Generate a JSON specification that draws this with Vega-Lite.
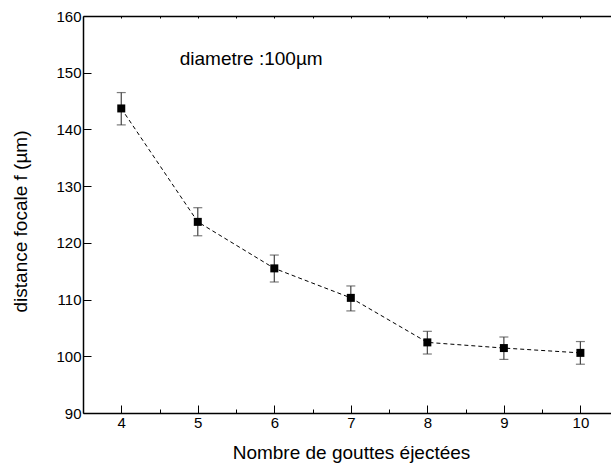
{
  "$schema": "https://vega.github.io/schema/vega-lite/v6.json",
  "autosize": {"type": "none"},
  "padding": {"left": 83, "top": 16, "right": 0, "bottom": 59},
  "width": 528,
  "height": 397,
  "background": "white",
  "config": {
    "view": {"stroke": null},
    "font": "Liberation Sans",
    "axis": {"labelFont": "Liberation Sans", "titleFont": "Liberation Sans", "labelColor": "black", "titleColor": "black", "domainColor": "black", "tickColor": "black", "grid": false, "titleFontWeight": "normal", "labelOverlap": false, "labelFlush": false, "domainWidth": 1.5, "zindex": 1}
  },
  "data": {
    "values": [
      {"n": 4, "f": 143.7, "lo": 140.8, "hi": 146.5},
      {"n": 5, "f": 123.7, "lo": 121.25, "hi": 126.2},
      {"n": 6, "f": 115.5, "lo": 113.1, "hi": 117.85},
      {"n": 7, "f": 110.3, "lo": 108.0, "hi": 112.4},
      {"n": 8, "f": 102.45, "lo": 100.4, "hi": 104.4},
      {"n": 9, "f": 101.45, "lo": 99.45, "hi": 103.4},
      {"n": 10, "f": 100.6, "lo": 98.6, "hi": 102.6}
    ]
  },
  "resolve": {"axis": {"x": "independent"}},
  "layer": [
    {
      "mark": {"type": "line", "color": "black", "strokeWidth": 1, "strokeDash": [4, 3]},
      "encoding": {
        "x": {"field": "n", "type": "quantitative", "scale": {"domain": [3.5, 10.4], "nice": false, "zero": false},
          "axis": {"orient": "bottom", "values": [4, 4.5, 5, 5.5, 6, 6.5, 7, 7.5, 8, 8.5, 9, 9.5, 10],
            "labelExpr": "datum.value % 1 === 0 ? format(datum.value, 'd') : ''",
            "tickSize": {"condition": {"test": "datum.value % 1 === 0", "value": -8}, "value": -4},
            "labelFontSize": 15, "labelPadding": 10,
            "title": "Nombre de gouttes éjectées", "titleFontSize": 19, "titleBaseline": "alphabetic", "titleY": 45, "titleX": 268}},
        "y": {"field": "f", "type": "quantitative", "scale": {"domain": [90, 160], "nice": false, "zero": false},
          "axis": {"values": [90, 95, 100, 105, 110, 115, 120, 125, 130, 135, 140, 145, 150, 155, 160],
            "labelExpr": "datum.value % 10 === 0 ? format(datum.value, 'd') : ''",
            "tickSize": {"condition": {"test": "datum.value % 10 === 0", "value": -8}, "value": -5},
            "labelFontSize": 15, "labelPadding": 10,
            "title": "distance focale f (µm)", "titleFontSize": 19, "titleBaseline": "middle", "titleX": -63, "titleY": 205}}
      }
    },
    {
      "mark": {"type": "rule", "color": "#444", "strokeWidth": 1.2},
      "encoding": {
        "x": {"field": "n", "type": "quantitative", "axis": null},
        "y": {"field": "lo", "type": "quantitative"},
        "y2": {"field": "hi"}
      }
    },
    {
      "mark": {"type": "tick", "orient": "horizontal", "color": "#444", "size": 9, "thickness": 1.2},
      "encoding": {
        "x": {"field": "n", "type": "quantitative", "axis": null},
        "y": {"field": "lo", "type": "quantitative"}
      }
    },
    {
      "mark": {"type": "tick", "orient": "horizontal", "color": "#444", "size": 9, "thickness": 1.2},
      "encoding": {
        "x": {"field": "n", "type": "quantitative", "axis": null},
        "y": {"field": "hi", "type": "quantitative"}
      }
    },
    {
      "mark": {"type": "point", "shape": "square", "filled": true, "color": "black", "size": 64, "opacity": 1},
      "encoding": {
        "x": {"field": "n", "type": "quantitative",
          "axis": {"orient": "top", "values": [4, 4.5, 5, 5.5, 6, 6.5, 7, 7.5, 8, 8.5, 9, 9.5, 10], "labels": false, "title": null,
            "tickSize": -2}},
        "y": {"field": "f", "type": "quantitative"}
      }
    },
    {
      "data": {"values": [{"n": 4.764, "f": 151.36, "label": "diametre :100µm"}]},
      "mark": {"type": "text", "align": "left", "baseline": "alphabetic", "fontSize": 19, "font": "Liberation Sans", "color": "black"},
      "encoding": {
        "x": {"field": "n", "type": "quantitative", "axis": null},
        "y": {"field": "f", "type": "quantitative"},
        "text": {"field": "label"}
      }
    }
  ]
}
